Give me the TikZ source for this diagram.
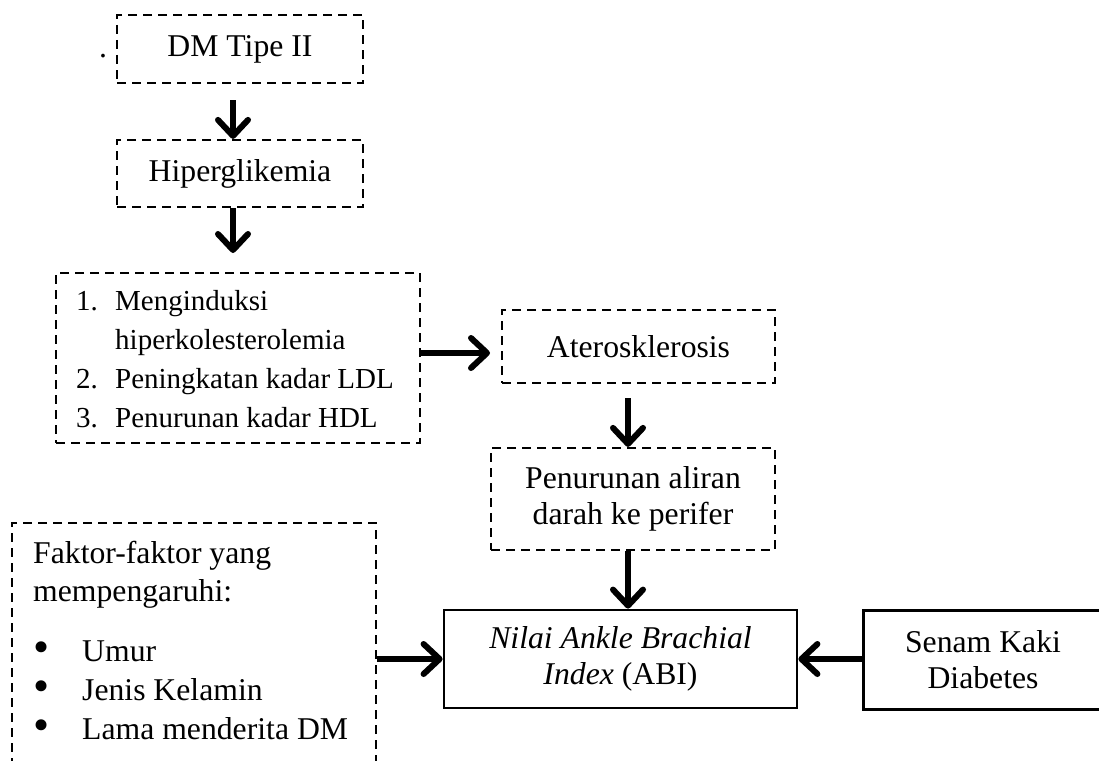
\documentclass[tikz,border=0pt]{standalone}
\usepackage{fontspec}
\usepackage{graphicx}
\setmainfont{Liberation Serif}
\usetikzlibrary{arrows.meta}
\newcommand{\bigbul}{\smash{\raisebox{-1.5pt}{\scalebox{1.45}{\textbullet}}}}
\begin{document}
\begin{tikzpicture}[x=1pt,y=-1pt,
  txt/.style={font=\fontsize{31.7}{36}\selectfont},
  dbox/.style={draw, dash pattern=on 9pt off 6pt, line width=2.2pt, inner sep=0pt, align=center, txt},
  sbox/.style={draw, line width=2.8pt, inner sep=0pt, align=center, txt},
  sline/.style={line width=2.8pt, line join=miter},
  arr/.style={line width=6pt, -{Straight Barb[length=16pt,width=30pt,round]}},
  ltxt/.style={anchor=base west, inner sep=0pt, font=\fontsize{29}{39}\selectfont},
  ftxt/.style={anchor=base west, inner sep=0pt, txt}]
\useasboundingbox (0,0) rectangle (1099,760);
% boxes
\node[anchor=base, inner sep=0pt, txt] (dot) at (103,58) {.};
\node[dbox, minimum width=246pt, minimum height=68pt] (dm) at (240,49) {DM Tipe II};
\node[dbox, minimum width=246pt, minimum height=67pt] (hip) at (240,173.5) {Hiperglikemia};
\node[dbox, minimum width=364pt, minimum height=170pt] (list) at (238,358) {};
\node[ltxt] (l1) at (76,310) {\makebox[39pt][l]{1.}Menginduksi};
\node[ltxt] (l2) at (115,349) {hiperkolesterolemia};
\node[ltxt] (l3) at (76,388) {\makebox[39pt][l]{2.}Peningkatan kadar LDL};
\node[ltxt] (l4) at (76,427) {\makebox[39pt][l]{3.}Penurunan kadar HDL};
\node[dbox, minimum width=273pt, minimum height=73pt] (ater) at (638.5,346.5) {Aterosklerosis};
\node[dbox, minimum width=284pt, minimum height=102pt] (pen) at (633,499) {Penurunan aliran\\darah ke perifer};
\node[sbox, minimum width=353pt, minimum height=98pt] (abi) at (620.5,659) {\textit{Nilai Ankle Brachial}\\\textit{Index} (ABI)};
\node[inner sep=0pt, align=center, txt, minimum width=238pt, minimum height=98pt] (senam) at (983,660) {Senam Kaki\\Diabetes};
\draw[sline] ([xshift=320pt]senam.north west) -- (senam.north west) -- (senam.south west) -- ([xshift=320pt]senam.south west);
\node[dbox, minimum width=364pt, minimum height=267pt] (fac) at (194,656.5) {};
\node[ftxt] (f1) at (33,563) {Faktor-faktor yang};
\node[ftxt] (f2) at (33,601) {mempengaruhi:};
\node[ftxt] (f3) at (33,661) {\makebox[49pt][l]{\bigbul}Umur};
\node[ftxt] (f4) at (33,700) {\makebox[49pt][l]{\bigbul}Jenis Kelamin};
\node[ftxt] (f5) at (33,739) {\makebox[49pt][l]{\bigbul}Lama menderita DM};
% arrow ends
\coordinate (a1s) at (233,100);
\coordinate (a2e) at (233,253);
\coordinate (a3e) at (490,353);
\coordinate (a4s) at (628,398);
% connectors
\draw[arr] (a1s) -- (a1s |- hip.north);
\draw[arr] (hip.south -| a2e) -- (a2e);
\draw[arr] (list.east |- a3e) -- (a3e);
\draw[arr] (a4s) -- (a4s |- pen.north);
\draw[arr] (pen.south -| a4s) -- (abi.north -| a4s);
\draw[arr] (fac.east |- abi.west) -- (abi.west);
\draw[arr] (senam.west |- abi.east) -- (abi.east);
\end{tikzpicture}
\end{document}
